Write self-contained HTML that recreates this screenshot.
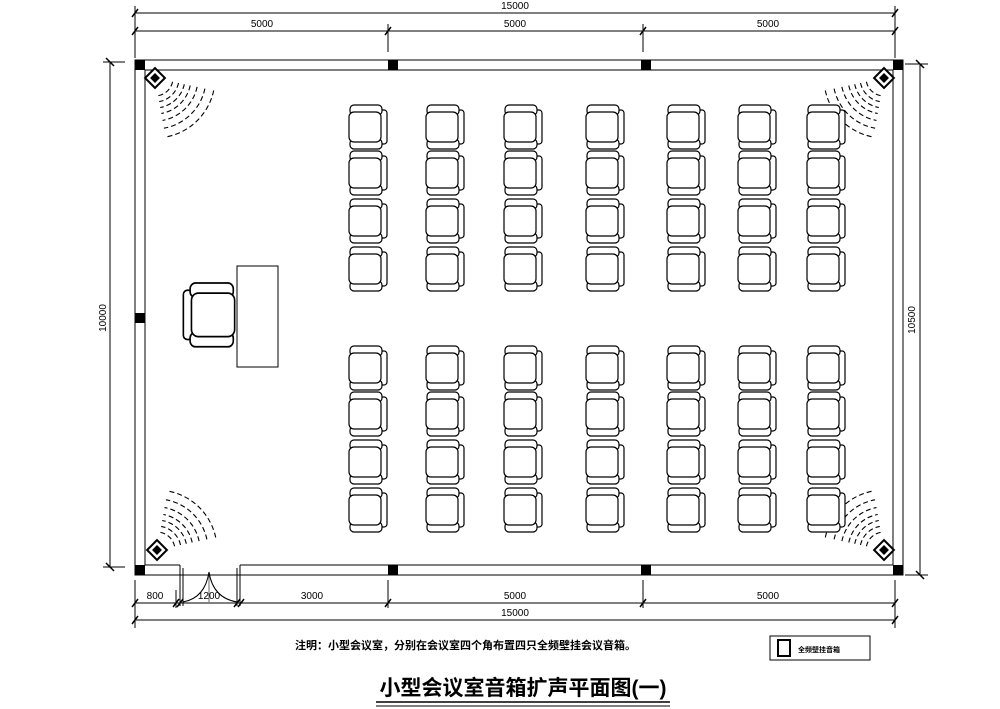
<!DOCTYPE html>
<html><head><meta charset="utf-8"><style>
html,body{margin:0;padding:0;background:#fff;width:1000px;height:709px;overflow:hidden}
svg text{font-family:"Liberation Sans","Noto Sans CJK SC",sans-serif}
</style></head><body>
<svg width="1000" height="709" viewBox="0 0 1000 709" xmlns="http://www.w3.org/2000/svg">
<defs>
<g id="ch" fill="#fff" stroke="#000" stroke-width="1.2">
<rect x="32" y="5" width="7" height="34" rx="3"/>
<rect x="2" y="0" width="32" height="10" rx="4"/>
<rect x="2" y="34" width="32" height="10" rx="4"/>
<rect x="1" y="7" width="32" height="30" rx="5"/>
</g>
<g id="sp">
<g fill="none" stroke="#000" stroke-width="1.1" stroke-dasharray="5,3">
<path d="M17.6 3.7 A18 18 0 0 1 3.1 17.7"/>
<path d="M23.5 5 A24 24 0 0 1 4.2 23.6"/>
<path d="M29.3 6.2 A30 30 0 0 1 5.2 29.5"/>
<path d="M35.2 7.5 A36 36 0 0 1 6.3 35.5"/>
<path d="M42.1 8.9 A43 43 0 0 1 7.5 42.4"/>
<path d="M49.9 10.6 A51 51 0 0 1 8.9 50.2"/>
<path d="M58.7 12.5 A60 60 0 0 1 10.4 59.1"/>
</g>
<rect x="-7" y="-7" width="14" height="14" transform="rotate(45)" fill="#fff" stroke="#000" stroke-width="2"/>
<rect x="-3.5" y="-3.5" width="7" height="7" transform="rotate(45)" fill="#000"/>
</g>
</defs>
<g stroke="#000" stroke-width="1" fill="none">
<line x1="135" y1="13" x2="895" y2="13"/>
<line x1="135" y1="31" x2="895" y2="31"/>
<line x1="135" y1="6" x2="135" y2="58"/>
<line x1="388" y1="24" x2="388" y2="52"/>
<line x1="643" y1="24" x2="643" y2="52"/>
<line x1="895" y1="6" x2="895" y2="58"/>
<g stroke-width="1.5">
<line x1="132" y1="17" x2="138" y2="9"/><line x1="892" y1="17" x2="898" y2="9"/>
<line x1="132" y1="35" x2="138" y2="27"/><line x1="385" y1="35" x2="391" y2="27"/>
<line x1="640" y1="35" x2="646" y2="27"/><line x1="892" y1="35" x2="898" y2="27"/>
</g>
<line x1="110" y1="62" x2="110" y2="567"/>
<line x1="103" y1="62" x2="125" y2="62"/><line x1="103" y1="567" x2="125" y2="567"/>
<line x1="106" y1="58" x2="114" y2="66" stroke-width="1.5"/><line x1="106" y1="563" x2="114" y2="571" stroke-width="1.5"/>
<line x1="920" y1="64" x2="920" y2="575"/>
<line x1="905" y1="64" x2="928" y2="64"/><line x1="905" y1="575" x2="928" y2="575"/>
<line x1="916" y1="60" x2="924" y2="68" stroke-width="1.5"/><line x1="916" y1="571" x2="924" y2="579" stroke-width="1.5"/>
<rect x="135" y="60" width="768" height="515"/>
<line x1="145" y1="70" x2="893" y2="70"/>
<line x1="145" y1="70" x2="145" y2="565"/>
<line x1="893" y1="70" x2="893" y2="565"/>
<line x1="145" y1="565" x2="180" y2="565"/>
<line x1="240" y1="565" x2="893" y2="565"/>
<line x1="180" y1="565" x2="180" y2="606"/><line x1="183" y1="568" x2="183" y2="606"/>
<line x1="237" y1="568" x2="237" y2="606"/><line x1="240" y1="565" x2="240" y2="606"/>
<line x1="209" y1="572" x2="209" y2="602" stroke-width="0.6"/>
<path d="M183 602 Q205 598 209 572"/><path d="M237 602 Q213 598 209 572"/>
<line x1="135" y1="603" x2="895" y2="603"/>
<line x1="135" y1="620" x2="895" y2="620"/>
<line x1="135" y1="580" x2="135" y2="628"/>
<line x1="176" y1="590" x2="176" y2="608"/>
<line x1="388" y1="580" x2="388" y2="608"/>
<line x1="643" y1="580" x2="643" y2="608"/>
<line x1="895" y1="580" x2="895" y2="628"/>
<g stroke-width="1.5">
<line x1="132" y1="607" x2="138" y2="599"/><line x1="173" y1="607" x2="179" y2="599"/><line x1="177" y1="607" x2="183" y2="599"/>
<line x1="234" y1="607" x2="240" y2="599"/><line x1="238" y1="607" x2="244" y2="599"/>
<line x1="385" y1="607" x2="391" y2="599"/><line x1="640" y1="607" x2="646" y2="599"/><line x1="892" y1="607" x2="898" y2="599"/>
<line x1="132" y1="624" x2="138" y2="616"/><line x1="892" y1="624" x2="898" y2="616"/>
</g>
<rect x="237" y="266" width="41" height="101"/>
</g>
<g fill="#000">
<rect x="135" y="60" width="10" height="10"/><rect x="388" y="60" width="10" height="10"/>
<rect x="641" y="60" width="10" height="10"/><rect x="893" y="60" width="10" height="10"/>
<rect x="135" y="313" width="10" height="10"/>
<rect x="135" y="565" width="10" height="10"/><rect x="388" y="565" width="10" height="10"/>
<rect x="641" y="565" width="10" height="10"/><rect x="893" y="565" width="10" height="10"/>
</g>
<g transform="translate(236,283) scale(-1.35,1.45)"><use href="#ch"/></g>
<g transform="translate(155,78)"><use href="#sp"/></g>
<g transform="translate(884,78) scale(-1,1)"><use href="#sp"/></g>
<g transform="translate(157,550) scale(1,-1)"><use href="#sp"/></g>
<g transform="translate(884,550) scale(-1,-1)"><use href="#sp"/></g>
<g id="rows">
<g transform="translate(348,105)">
<use href="#ch" x="0"/><use href="#ch" x="77"/><use href="#ch" x="155"/><use href="#ch" x="237"/><use href="#ch" x="318"/><use href="#ch" x="389"/><use href="#ch" x="458"/>
<use href="#ch" x="0" y="46"/><use href="#ch" x="77" y="46"/><use href="#ch" x="155" y="46"/><use href="#ch" x="237" y="46"/><use href="#ch" x="318" y="46"/><use href="#ch" x="389" y="46"/><use href="#ch" x="458" y="46"/>
<use href="#ch" x="0" y="94"/><use href="#ch" x="77" y="94"/><use href="#ch" x="155" y="94"/><use href="#ch" x="237" y="94"/><use href="#ch" x="318" y="94"/><use href="#ch" x="389" y="94"/><use href="#ch" x="458" y="94"/>
<use href="#ch" x="0" y="142"/><use href="#ch" x="77" y="142"/><use href="#ch" x="155" y="142"/><use href="#ch" x="237" y="142"/><use href="#ch" x="318" y="142"/><use href="#ch" x="389" y="142"/><use href="#ch" x="458" y="142"/>
</g>
</g>
<use href="#rows" y="241"/>
<g font-size="10" text-anchor="middle" fill="#000">
<text x="515" y="9">15000</text>
<text x="262" y="27">5000</text><text x="515" y="27">5000</text><text x="768" y="27">5000</text>
<text x="155" y="599">800</text><text x="209" y="599">1200</text><text x="312" y="599">3000</text>
<text x="515" y="599">5000</text><text x="768" y="599">5000</text>
<text x="515" y="616">15000</text>
<text transform="translate(106,318) rotate(-90)">10000</text>
<text transform="translate(915,320) rotate(-90)">10500</text>
</g>
<text x="295" y="649" font-size="11" font-weight="bold">注明：小型会议室，分别在会议室四个角布置四只全频壁挂会议音箱。</text>
<rect x="770" y="636" width="100" height="24" fill="none" stroke="#000"/>
<rect x="778" y="640" width="12" height="16" fill="none" stroke="#000" stroke-width="2"/>
<text x="798" y="652" font-size="7" font-weight="bold">全频壁挂音箱</text>
<text x="523" y="695" font-size="21" font-weight="bold" text-anchor="middle">小型会议室音箱扩声平面图(一)</text>
<line x1="376" y1="702" x2="670" y2="702" stroke="#000" stroke-width="1.5"/>
<line x1="376" y1="706" x2="670" y2="706" stroke="#000" stroke-width="1"/>
</svg>
</body></html>
